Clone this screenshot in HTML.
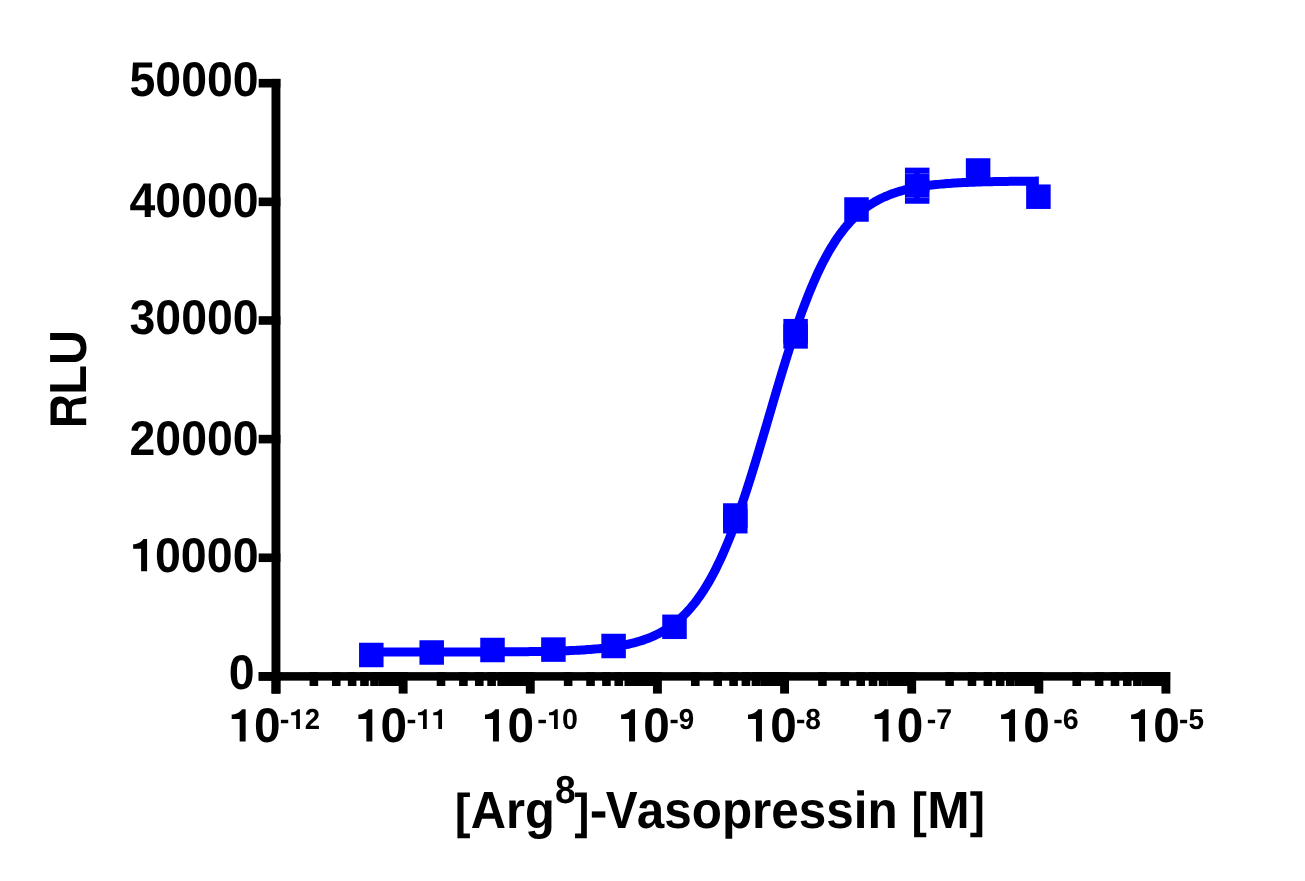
<!DOCTYPE html>
<html><head><meta charset="utf-8"><style>
html,body{margin:0;padding:0;background:#fff;}
svg{display:block;will-change:transform;}
text{font-family:"Liberation Sans",sans-serif;font-weight:bold;fill:#000;font-kerning:none;text-rendering:geometricPrecision;}
</style></head><body>
<svg width="1305" height="881" viewBox="0 0 1305 881">
<rect width="1305" height="881" fill="#fff"/>
<rect x="271.5" y="78.9" width="8.9" height="614.70" fill="#000"/>
<rect x="258.7" y="78.90" width="21.70" height="8.6" fill="#000"/>
<rect x="258.7" y="197.54" width="21.70" height="8.6" fill="#000"/>
<rect x="258.7" y="316.18" width="21.70" height="8.6" fill="#000"/>
<rect x="258.7" y="434.82" width="21.70" height="8.6" fill="#000"/>
<rect x="258.7" y="553.46" width="21.70" height="8.6" fill="#000"/>
<rect x="258.7" y="672.10" width="21.70" height="8.6" fill="#000"/>
<rect x="258.7" y="672.1" width="911.40" height="8.55" fill="#000"/>
<rect x="271.55" y="672.1" width="8.9" height="21.50" fill="#000"/>
<rect x="398.69" y="672.1" width="8.9" height="21.50" fill="#000"/>
<rect x="525.83" y="672.1" width="8.9" height="21.50" fill="#000"/>
<rect x="652.97" y="672.1" width="8.9" height="21.50" fill="#000"/>
<rect x="780.11" y="672.1" width="8.9" height="21.50" fill="#000"/>
<rect x="907.25" y="672.1" width="8.9" height="21.50" fill="#000"/>
<rect x="1034.39" y="672.1" width="8.9" height="21.50" fill="#000"/>
<rect x="1161.45" y="672.1" width="8.9" height="21.50" fill="#000"/>
<rect x="309.57" y="672.1" width="8.6" height="13.90" fill="#000"/>
<rect x="331.96" y="672.1" width="8.6" height="13.90" fill="#000"/>
<rect x="347.85" y="672.1" width="8.6" height="13.90" fill="#000"/>
<rect x="360.17" y="672.1" width="8.6" height="13.90" fill="#000"/>
<rect x="370.23" y="672.1" width="8.6" height="13.90" fill="#000"/>
<rect x="378.75" y="672.1" width="8.6" height="13.90" fill="#000"/>
<rect x="386.12" y="672.1" width="8.6" height="13.90" fill="#000"/>
<rect x="392.62" y="672.1" width="8.6" height="13.90" fill="#000"/>
<rect x="436.71" y="672.1" width="8.6" height="13.90" fill="#000"/>
<rect x="459.10" y="672.1" width="8.6" height="13.90" fill="#000"/>
<rect x="474.99" y="672.1" width="8.6" height="13.90" fill="#000"/>
<rect x="487.31" y="672.1" width="8.6" height="13.90" fill="#000"/>
<rect x="497.37" y="672.1" width="8.6" height="13.90" fill="#000"/>
<rect x="505.89" y="672.1" width="8.6" height="13.90" fill="#000"/>
<rect x="513.26" y="672.1" width="8.6" height="13.90" fill="#000"/>
<rect x="519.76" y="672.1" width="8.6" height="13.90" fill="#000"/>
<rect x="563.85" y="672.1" width="8.6" height="13.90" fill="#000"/>
<rect x="586.24" y="672.1" width="8.6" height="13.90" fill="#000"/>
<rect x="602.13" y="672.1" width="8.6" height="13.90" fill="#000"/>
<rect x="614.45" y="672.1" width="8.6" height="13.90" fill="#000"/>
<rect x="624.51" y="672.1" width="8.6" height="13.90" fill="#000"/>
<rect x="633.03" y="672.1" width="8.6" height="13.90" fill="#000"/>
<rect x="640.40" y="672.1" width="8.6" height="13.90" fill="#000"/>
<rect x="646.90" y="672.1" width="8.6" height="13.90" fill="#000"/>
<rect x="690.99" y="672.1" width="8.6" height="13.90" fill="#000"/>
<rect x="713.38" y="672.1" width="8.6" height="13.90" fill="#000"/>
<rect x="729.27" y="672.1" width="8.6" height="13.90" fill="#000"/>
<rect x="741.59" y="672.1" width="8.6" height="13.90" fill="#000"/>
<rect x="751.65" y="672.1" width="8.6" height="13.90" fill="#000"/>
<rect x="760.17" y="672.1" width="8.6" height="13.90" fill="#000"/>
<rect x="767.54" y="672.1" width="8.6" height="13.90" fill="#000"/>
<rect x="774.04" y="672.1" width="8.6" height="13.90" fill="#000"/>
<rect x="818.13" y="672.1" width="8.6" height="13.90" fill="#000"/>
<rect x="840.52" y="672.1" width="8.6" height="13.90" fill="#000"/>
<rect x="856.41" y="672.1" width="8.6" height="13.90" fill="#000"/>
<rect x="868.73" y="672.1" width="8.6" height="13.90" fill="#000"/>
<rect x="878.79" y="672.1" width="8.6" height="13.90" fill="#000"/>
<rect x="887.31" y="672.1" width="8.6" height="13.90" fill="#000"/>
<rect x="894.68" y="672.1" width="8.6" height="13.90" fill="#000"/>
<rect x="901.18" y="672.1" width="8.6" height="13.90" fill="#000"/>
<rect x="945.27" y="672.1" width="8.6" height="13.90" fill="#000"/>
<rect x="967.66" y="672.1" width="8.6" height="13.90" fill="#000"/>
<rect x="983.55" y="672.1" width="8.6" height="13.90" fill="#000"/>
<rect x="995.87" y="672.1" width="8.6" height="13.90" fill="#000"/>
<rect x="1005.93" y="672.1" width="8.6" height="13.90" fill="#000"/>
<rect x="1014.45" y="672.1" width="8.6" height="13.90" fill="#000"/>
<rect x="1021.82" y="672.1" width="8.6" height="13.90" fill="#000"/>
<rect x="1028.32" y="672.1" width="8.6" height="13.90" fill="#000"/>
<rect x="1072.41" y="672.1" width="8.6" height="13.90" fill="#000"/>
<rect x="1094.80" y="672.1" width="8.6" height="13.90" fill="#000"/>
<rect x="1110.69" y="672.1" width="8.6" height="13.90" fill="#000"/>
<rect x="1123.01" y="672.1" width="8.6" height="13.90" fill="#000"/>
<rect x="1133.07" y="672.1" width="8.6" height="13.90" fill="#000"/>
<rect x="1141.59" y="672.1" width="8.6" height="13.90" fill="#000"/>
<rect x="1148.96" y="672.1" width="8.6" height="13.90" fill="#000"/>
<rect x="1155.46" y="672.1" width="8.6" height="13.90" fill="#000"/>
<text transform="translate(129.55,96.22) scale(0.953,1)" font-size="48.7">50000</text>
<text transform="translate(129.55,216.82) scale(0.953,1)" font-size="48.7">40000</text>
<text transform="translate(129.55,334.22) scale(0.953,1)" font-size="48.7">30000</text>
<text transform="translate(129.55,454.52) scale(0.953,1)" font-size="48.7">20000</text>
<path transform="translate(133.15,571.20) scale(1.0000,1.0000)" d="M0,-26.94 C3.5,-27.1 8.2,-28.5 10.21,-32.2 L13.93,-32.2 L13.93,0 L7.97,0 L7.97,-22.5 L0,-22.5 Z"/>
<text transform="translate(154.96,571.82) scale(0.9568,1)" font-size="48.70">0000</text>
<text transform="translate(228.76,689.22) scale(0.9542,1)" font-size="48.70">0</text>
<path transform="translate(231.70,741.50) scale(1.0000,1.0000)" d="M0,-26.94 C3.5,-27.1 8.2,-28.5 10.21,-32.2 L13.93,-32.2 L13.93,0 L7.97,0 L7.97,-22.5 L0,-22.5 Z"/>
<text transform="translate(253.91,742.00) scale(0.9801,1)" font-size="48.70">0</text>
<text transform="translate(279.84,729.00) scale(1.0017,1)" font-size="28.90">-</text>
<path transform="translate(291.15,729.00) scale(0.6281,0.6118)" d="M0,-26.94 C3.5,-27.1 8.2,-28.5 10.21,-32.2 L13.93,-32.2 L13.93,0 L7.97,0 L7.97,-22.5 L0,-22.5 Z"/>
<text transform="translate(304.85,729.00) scale(0.9509,1)" font-size="28.90">2</text>
<path transform="translate(358.40,741.50) scale(1.0000,1.0000)" d="M0,-26.94 C3.5,-27.1 8.2,-28.5 10.21,-32.2 L13.93,-32.2 L13.93,0 L7.97,0 L7.97,-22.5 L0,-22.5 Z"/>
<text transform="translate(380.61,742.00) scale(0.9801,1)" font-size="48.70">0</text>
<text transform="translate(406.38,729.00) scale(1.0275,1)" font-size="28.90">-</text>
<path transform="translate(418.02,729.00) scale(0.6281,0.6118)" d="M0,-26.94 C3.5,-27.1 8.2,-28.5 10.21,-32.2 L13.93,-32.2 L13.93,0 L7.97,0 L7.97,-22.5 L0,-22.5 Z"/>
<path transform="translate(433.28,729.00) scale(0.6281,0.6118)" d="M0,-26.94 C3.5,-27.1 8.2,-28.5 10.21,-32.2 L13.93,-32.2 L13.93,0 L7.97,0 L7.97,-22.5 L0,-22.5 Z"/>
<path transform="translate(485.00,741.50) scale(1.0000,1.0000)" d="M0,-26.94 C3.5,-27.1 8.2,-28.5 10.21,-32.2 L13.93,-32.2 L13.93,0 L7.97,0 L7.97,-22.5 L0,-22.5 Z"/>
<text transform="translate(507.51,742.00) scale(0.9801,1)" font-size="48.70">0</text>
<text transform="translate(537.17,729.00) scale(1.0275,1)" font-size="28.90">-</text>
<path transform="translate(549.00,729.00) scale(0.6281,0.6118)" d="M0,-26.94 C3.5,-27.1 8.2,-28.5 10.21,-32.2 L13.93,-32.2 L13.93,0 L7.97,0 L7.97,-22.5 L0,-22.5 Z"/>
<text transform="translate(562.03,729.00) scale(0.9902,1)" font-size="28.90">0</text>
<path transform="translate(621.10,741.50) scale(1.0000,1.0000)" d="M0,-26.94 C3.5,-27.1 8.2,-28.5 10.21,-32.2 L13.93,-32.2 L13.93,0 L7.97,0 L7.97,-22.5 L0,-22.5 Z"/>
<text transform="translate(643.31,742.00) scale(0.9801,1)" font-size="48.70">0</text>
<text transform="translate(669.41,729.00) scale(0.9619,1)" font-size="28.90">-9</text>
<path transform="translate(748.00,741.50) scale(1.0000,1.0000)" d="M0,-26.94 C3.5,-27.1 8.2,-28.5 10.21,-32.2 L13.93,-32.2 L13.93,0 L7.97,0 L7.97,-22.5 L0,-22.5 Z"/>
<text transform="translate(770.21,742.00) scale(0.9801,1)" font-size="48.70">0</text>
<text transform="translate(796.00,729.00) scale(0.9713,1)" font-size="28.90">-8</text>
<path transform="translate(874.60,741.50) scale(1.0000,1.0000)" d="M0,-26.94 C3.5,-27.1 8.2,-28.5 10.21,-32.2 L13.93,-32.2 L13.93,0 L7.97,0 L7.97,-22.5 L0,-22.5 Z"/>
<text transform="translate(896.71,742.00) scale(0.9801,1)" font-size="48.70">0</text>
<text transform="translate(926.69,729.00) scale(0.9872,1)" font-size="28.90">-7</text>
<path transform="translate(1001.10,741.50) scale(1.0000,1.0000)" d="M0,-26.94 C3.5,-27.1 8.2,-28.5 10.21,-32.2 L13.93,-32.2 L13.93,0 L7.97,0 L7.97,-22.5 L0,-22.5 Z"/>
<text transform="translate(1023.31,742.00) scale(0.9801,1)" font-size="48.70">0</text>
<text transform="translate(1053.28,729.00) scale(0.9905,1)" font-size="28.90">-6</text>
<path transform="translate(1131.10,741.50) scale(1.0000,1.0000)" d="M0,-26.94 C3.5,-27.1 8.2,-28.5 10.21,-32.2 L13.93,-32.2 L13.93,0 L7.97,0 L7.97,-22.5 L0,-22.5 Z"/>
<text transform="translate(1153.31,742.00) scale(0.9801,1)" font-size="48.70">0</text>
<text transform="translate(1179.11,729.00) scale(0.9637,1)" font-size="28.90">-5</text>
<polyline points="371.57,652.06 373.80,652.06 376.03,652.06 378.26,652.06 380.49,652.06 382.73,652.06 384.96,652.06 387.19,652.05 389.42,652.05 391.65,652.05 393.88,652.05 396.12,652.05 398.35,652.05 400.58,652.05 402.81,652.05 405.04,652.05 407.27,652.05 409.51,652.05 411.74,652.05 413.97,652.05 416.20,652.05 418.43,652.04 420.66,652.04 422.90,652.04 425.13,652.04 427.36,652.04 429.59,652.04 431.82,652.04 434.05,652.03 436.29,652.03 438.52,652.03 440.75,652.03 442.98,652.03 445.21,652.02 447.44,652.02 449.68,652.02 451.91,652.01 454.14,652.01 456.37,652.01 458.60,652.00 460.83,652.00 463.07,652.00 465.30,651.99 467.53,651.99 469.76,651.98 471.99,651.98 474.22,651.97 476.46,651.96 478.69,651.96 480.92,651.95 483.15,651.94 485.38,651.94 487.61,651.93 489.85,651.92 492.08,651.91 494.31,651.90 496.54,651.89 498.77,651.88 501.00,651.86 503.24,651.85 505.47,651.84 507.70,651.82 509.93,651.80 512.16,651.79 514.39,651.77 516.63,651.75 518.86,651.73 521.09,651.71 523.32,651.68 525.55,651.66 527.78,651.63 530.02,651.60 532.25,651.57 534.48,651.54 536.71,651.50 538.94,651.46 541.17,651.42 543.41,651.38 545.64,651.34 547.87,651.29 550.10,651.24 552.33,651.18 554.56,651.12 556.80,651.06 559.03,650.99 561.26,650.92 563.49,650.84 565.72,650.76 567.95,650.68 570.19,650.58 572.42,650.49 574.65,650.38 576.88,650.27 579.11,650.15 581.35,650.02 583.58,649.89 585.81,649.74 588.04,649.59 590.27,649.42 592.50,649.25 594.74,649.06 596.97,648.86 599.20,648.65 601.43,648.42 603.66,648.18 605.89,647.93 608.13,647.65 610.36,647.36 612.59,647.05 614.82,646.72 617.05,646.37 619.28,645.99 621.52,645.59 623.75,645.16 625.98,644.71 628.21,644.23 630.44,643.71 632.67,643.17 634.91,642.58 637.14,641.96 639.37,641.30 641.60,640.60 643.83,639.86 646.06,639.06 648.30,638.22 650.53,637.32 652.76,636.37 654.99,635.36 657.22,634.29 659.45,633.15 661.69,631.94 663.92,630.65 666.15,629.29 668.38,627.85 670.61,626.32 672.84,624.70 675.08,622.98 677.31,621.17 679.54,619.25 681.77,617.22 684.00,615.07 686.23,612.80 688.47,610.41 690.70,607.89 692.93,605.23 695.16,602.43 697.39,599.49 699.62,596.39 701.86,593.13 704.09,589.72 706.32,586.13 708.55,582.38 710.78,578.45 713.01,574.34 715.25,570.05 717.48,565.58 719.71,560.92 721.94,556.07 724.17,551.03 726.40,545.80 728.64,540.38 730.87,534.78 733.10,528.99 735.33,523.02 737.56,516.87 739.79,510.55 742.03,504.06 744.26,497.42 746.49,490.62 748.72,483.69 750.95,476.63 753.18,469.45 755.42,462.17 757.65,454.79 759.88,447.33 762.11,439.82 764.34,432.25 766.57,424.65 768.81,417.04 771.04,409.42 773.27,401.82 775.50,394.25 777.73,386.72 779.96,379.26 782.20,371.87 784.43,364.57 786.66,357.37 788.89,350.29 791.12,343.34 793.35,336.53 795.59,329.86 797.82,323.35 800.05,317.01 802.28,310.83 804.51,304.84 806.74,299.02 808.98,293.39 811.21,287.94 813.44,282.69 815.67,277.62 817.90,272.74 820.14,268.06 822.37,263.56 824.60,259.24 826.83,255.11 829.06,251.15 831.29,247.37 833.53,243.76 835.76,240.32 837.99,237.05 840.22,233.93 842.45,230.96 844.68,228.14 846.92,225.46 849.15,222.92 851.38,220.51 853.61,218.22 855.84,216.06 858.07,214.01 860.31,212.08 862.54,210.25 864.77,208.52 867.00,206.88 869.23,205.34 871.46,203.89 873.70,202.51 875.93,201.22 878.16,200.00 880.39,198.85 882.62,197.76 884.85,196.74 887.09,195.78 889.32,194.88 891.55,194.03 893.78,193.23 896.01,192.48 898.24,191.77 900.48,191.10 902.71,190.48 904.94,189.89 907.17,189.34 909.40,188.82 911.63,188.33 913.87,187.87 916.10,187.44 918.33,187.04 920.56,186.66 922.79,186.31 925.02,185.97 927.26,185.66 929.49,185.36 931.72,185.09 933.95,184.83 936.18,184.58 938.41,184.36 940.65,184.14 942.88,183.94 945.11,183.75 947.34,183.58 949.57,183.41 951.80,183.25 954.04,183.11 956.27,182.97 958.50,182.84 960.73,182.72 962.96,182.61 965.19,182.50 967.43,182.40 969.66,182.31 971.89,182.22 974.12,182.14 976.35,182.07 978.58,181.99 980.82,181.93 983.05,181.86 985.28,181.80 987.51,181.75 989.74,181.70 991.97,181.65 994.21,181.60 996.44,181.56 998.67,181.52 1000.90,181.48 1003.13,181.44 1005.36,181.41 1007.60,181.38 1009.83,181.35 1012.06,181.32 1014.29,181.30 1016.52,181.27 1018.75,181.25 1020.99,181.23 1023.22,181.21 1025.45,181.19 1027.68,181.17 1029.91,181.16 1032.14,181.14 1034.38,181.13 1036.61,181.11 1038.84,181.10" fill="none" stroke="#0000ff" stroke-width="9" stroke-linejoin="round"/>
<rect x="359.05" y="642.75" width="24.5" height="24.5" fill="#0000ff"/>
<rect x="419.45" y="640.25" width="24.5" height="24.5" fill="#0000ff"/>
<rect x="480.25" y="637.75" width="24.5" height="24.5" fill="#0000ff"/>
<rect x="541.15" y="637.35" width="24.5" height="24.5" fill="#0000ff"/>
<rect x="601.35" y="633.75" width="24.5" height="24.5" fill="#0000ff"/>
<rect x="662.25" y="614.55" width="24.5" height="24.5" fill="#0000ff"/>
<rect x="723.05" y="503.25" width="24.5" height="24.5" fill="#0000ff"/>
<rect x="723.05" y="508.95" width="24.5" height="24.5" fill="#0000ff"/>
<rect x="783.35" y="318.95" width="24.5" height="24.5" fill="#0000ff"/>
<rect x="783.35" y="324.15" width="24.5" height="24.5" fill="#0000ff"/>
<rect x="844.25" y="197.25" width="24.5" height="24.5" fill="#0000ff"/>
<rect x="904.95" y="167.65" width="24.5" height="24.5" fill="#0000ff"/>
<rect x="904.95" y="179.25" width="24.5" height="24.5" fill="#0000ff"/>
<rect x="965.85" y="158.25" width="24.5" height="24.5" fill="#0000ff"/>
<rect x="1026.15" y="184.45" width="24.5" height="24.5" fill="#0000ff"/>
<rect x="905.4" y="173.1" width="8.5" height="1" fill="#4646ff"/>
<rect x="919.8" y="173.1" width="9.3" height="1" fill="#4646ff"/>
<rect x="905.4" y="197.1" width="8.5" height="1" fill="#4646ff"/>
<rect x="919.8" y="197.1" width="9.3" height="1" fill="#4646ff"/>
<path transform="translate(86.2,425.0) rotate(-90)" fill-rule="evenodd" d="M0,0 L6.6,0 L6.6,-14.3 L16.8,-14.3 C19.6,-14.0 20.5,-11.5 20.7,-7 L21.0,-2.5 Q21.2,-0.5 21.8,0 L28.9,0 Q28.3,-1.2 27.6,-3.9 L26.0,-11.5 C25.6,-13.6 24.5,-15.6 23,-16.6 C25.3,-17.8 28.6,-21 28.6,-26.1 C28.6,-32.5 24.5,-35.7 19.5,-35.7 L0,-35.7 Z M7.1,-29.5 L7.1,-20.2 L16.8,-20.2 C19.5,-20.2 21.4,-22 21.4,-24.8 C21.4,-27.6 19.5,-29.5 16.8,-29.5 Z"/>
<text transform="translate(86.10,394.75) rotate(-90) scale(0.9300,1)" font-size="52.2">LU</text>
<text transform="translate(454.65,827.60) scale(0.9048,0.9413)" font-size="52.20">[</text>
<text transform="translate(470.78,827.90) scale(0.9353,1)" font-size="52.20">Arg</text>
<text transform="translate(554.92,803.42) scale(0.9557,1)" font-size="39.00">8</text>
<text transform="translate(574.46,827.60) scale(0.8542,0.9413)" font-size="52.20">]</text>
<text transform="translate(589.82,827.90) scale(1.0186,1)" font-size="52.20">-</text>
<text transform="translate(605.87,827.90) scale(0.9149,1)" font-size="52.20">V</text>
<text transform="translate(636.85,827.90) scale(0.9462,1)" font-size="52.20">asopressin</text>
<text transform="translate(911.61,827.36) scale(0.8831,0.9454)" font-size="52.20">[</text>
<text transform="translate(927.29,827.90) scale(0.9754,1)" font-size="52.20">M</text>
<text transform="translate(969.65,827.36) scale(0.8686,0.9454)" font-size="52.20">]</text>
</svg></body></html>
